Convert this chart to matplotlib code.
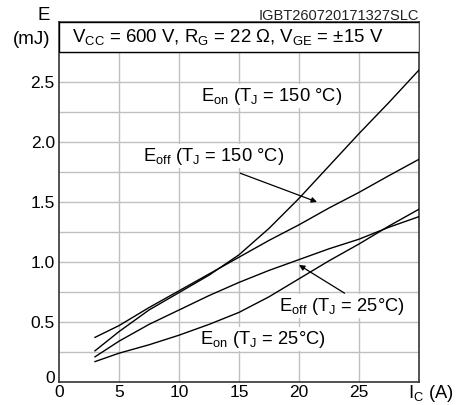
import matplotlib
matplotlib.use("Agg")
import matplotlib.pyplot as plt
from matplotlib.patches import Rectangle
from matplotlib.transforms import ScaledTranslation

plt.rcParams['font.family'] = ['Liberation Sans', 'DejaVu Sans']
plt.rcParams['mathtext.fontset'] = 'custom'
plt.rcParams['mathtext.rm'] = 'Liberation Sans'
plt.rcParams['mathtext.it'] = 'Liberation Sans:italic'

ic = [3, 5, 7.5, 10, 12.5, 15, 17.5, 20, 22.5, 25, 27.5, 30]
eon_150 = [0.26, 0.42, 0.60, 0.745, 0.89, 1.06, 1.28, 1.53, 1.80, 2.07, 2.33, 2.60]
eoff_150 = [0.372, 0.47, 0.62, 0.76, 0.90, 1.04, 1.18, 1.31, 1.45, 1.58, 1.72, 1.856]
eoff_25 = [0.21, 0.34, 0.48, 0.60, 0.72, 0.83, 0.93, 1.02, 1.11, 1.19, 1.29, 1.378]
eon_25 = [0.17, 0.24, 0.31, 0.39, 0.48, 0.58, 0.71, 0.86, 1.01, 1.15, 1.30, 1.44]

xticks = [0, 5, 10, 15, 20, 25]
yticks = [0, 0.5, 1.0, 1.5, 2.0, 2.5]
yticklabels = ['0', '0.5', '1.0', '1.5', '2.0', '2.5']

fig = plt.figure(figsize=(4.6, 4.05), dpi=100)
ax = fig.add_axes([59/460, 23/405, 360/460, 360/405])
ax.set_xlim(0, 30)
ax.set_ylim(0, 3.0)

# grid
for x in range(5, 30, 5):
    ax.axvline(x, color='#c0c0c0', lw=1, zorder=0)
for k in range(1, 12):
    ax.axhline(k * 0.25, color='#c0c0c0', lw=1, zorder=0)

for ys in (eon_150, eoff_150, eoff_25, eon_25):
    ax.plot(ic, ys, color='black', lw=1, zorder=3)

# header box
ax.add_patch(Rectangle((0, 2.75), 30, 0.25, facecolor='white', edgecolor='black', lw=1, zorder=4))
ax.text(1.1, 2.875, r'V$_{\mathrm{CC}}$ = 600 V, R$_{\mathrm{G}}$ = 22 Ω, V$_{\mathrm{GE}}$ = ±15 V',
        fontsize=13.4, va='center', ha='left', zorder=5)

fs = 13.2
bbox = dict(facecolor='white', edgecolor='none', pad=1)
ax.text(11.8, 2.38, r'E$_{\mathrm{on}}$ (T$_{\mathrm{J}}$ = 150 °C)', fontsize=fs,
        va='center', ha='left', bbox=bbox, zorder=2)
ax.text(6.97, 1.88, r'E$_{\mathrm{off}}$ (T$_{\mathrm{J}}$ = 150 °C)', fontsize=fs,
        va='center', ha='left', bbox=bbox, zorder=2)
ax.text(18.36, 0.63, r'E$_{\mathrm{off}}$ (T$_{\mathrm{J}}$ = 25°C)', fontsize=fs,
        va='center', ha='left', bbox=bbox, zorder=2)
ax.text(11.75, 0.356, r'E$_{\mathrm{on}}$ (T$_{\mathrm{J}}$ = 25°C)', fontsize=fs,
        va='center', ha='left', bbox=bbox, zorder=2)

arrow = dict(arrowstyle='-|>', color='black', lw=0.9, mutation_scale=8, shrinkA=0, shrinkB=0)
ax.annotate('', xy=(21.5, 1.50), xytext=(15.1, 1.74), arrowprops=arrow, zorder=4)
ax.annotate('', xy=(20.0, 0.975), xytext=(23.8, 0.74), arrowprops=arrow, zorder=4)

ax.set_xticks(xticks)
ax.set_yticks(yticks)
ax.set_yticklabels(yticklabels)
ax.tick_params(length=0, labelsize=12.5, pad=3)
ax.tick_params(axis='x', pad=2)
for s in ax.spines.values():
    s.set_color('#333333')
    s.set_linewidth(1.2)

ylab0 = ax.get_yticklabels()[0]
ylab0.set_transform(ylab0.get_transform() + ScaledTranslation(0, 5/100, fig.dpi_scale_trans))

fig.text(419/460, 1 - 15.5/405, 'IGBT260720171327SLC', fontsize=10.5, ha='right', va='center', color='#222222')
fig.text(50/460, 1 - 16/405, 'E', fontsize=13.5, ha='right', va='center')
fig.text(50/460, 1 - 39/405, '(mJ)', fontsize=13.5, ha='right', va='center')
fig.text(431/460, 1 - 393/405, r'I$_{\mathrm{C}}$ (A)', fontsize=13.2, ha='center', va='center')

fig.savefig('out.png', dpi=100)
